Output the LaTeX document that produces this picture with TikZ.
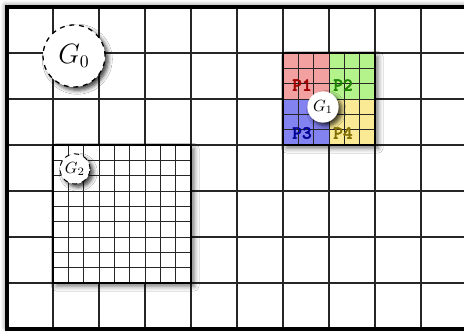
\documentclass[tikz,border=0pt]{standalone}
\usepackage{fontspec}
\newfontfamily\pfont{lmmonolt10-bold}[Extension=.otf, FakeBold=2]
\usetikzlibrary{shadows.blur}
\definecolor{pred}{RGB}{242,160,160}
\definecolor{pgreen}{RGB}{180,242,140}
\definecolor{pblue}{RGB}{130,130,240}
\definecolor{pyellow}{RGB}{250,234,150}
\definecolor{tred}{RGB}{160,0,0}
\definecolor{tgreen}{RGB}{30,130,0}
\definecolor{tblue}{RGB}{0,0,150}
\definecolor{tyellow}{RGB}{130,110,0}
\begin{document}
\begin{tikzpicture}[x=1cm,y=1cm,
  gridline/.style={line width=0.8pt, black!85},
  subline/.style={line width=0.6pt, black!85},
  frameline/.style={line width=2pt, black},
  boxline/.style={line width=1.2pt, black},
  softshadow/.style={blur shadow={shadow xshift=2pt, shadow yshift=-2pt, shadow blur radius=3pt, shadow opacity=55}},
  circshadow/.style={blur shadow={shadow xshift=2pt, shadow yshift=-2pt, shadow blur radius=2.5pt, shadow opacity=75}},
  gcircle/.style={circle, fill=white, inner sep=0pt, circshadow},
  plabel/.style={font=\fontsize{11.5}{13}\selectfont\pfont, inner sep=0pt}]
\useasboundingbox (-0.152,0.152) rectangle (9.935,-7.022);
\clip (-0.152,0.152) rectangle (9.935,-7.022);
% background grid with frame
\fill[white, blur shadow={shadow xshift=-1pt, shadow yshift=1pt, shadow blur radius=3pt, shadow opacity=50}] (0,0) rectangle (10,-7);
\draw[gridline] (0,-7) grid (10,0);
\draw[frameline] (0,0) rectangle (10,-7);
% G1 partitioned region
\fill[white, softshadow] (6,-1) rectangle (8,-3);
\fill[pred] (6,-1) rectangle (7,-2);
\fill[pgreen] (7,-1) rectangle (8,-2);
\fill[pblue] (6,-2) rectangle (7,-3);
\fill[pyellow] (7,-2) rectangle (8,-3);
\draw[subline, step=0.333333] (6,-3) grid (8,-1);
\draw[boxline] (6,-1) rectangle (8,-3);
\node[plabel, text=tred] (P1) at (6.413,-1.696) {P1};
\node[plabel, text=tgreen] (P2) at (7.304,-1.696) {P2};
\node[plabel, text=tblue] (P3) at (6.413,-2.739) {P3};
\node[plabel, text=tyellow] (P4) at (7.304,-2.739) {P4};
% G2 fine grid
\fill[white, softshadow] (1,-3) rectangle (4,-6);
\draw[subline, step=0.333333] (1,-6) grid (4,-3);
\draw[boxline] (1,-3) rectangle (4,-6);
% circles
\node[gcircle, draw, dashed, thick, minimum size=1.348cm, font=\fontsize{16}{18}\selectfont] (G0) at (1.457,-1.065) {$G_0$};
\node[gcircle, minimum size=0.68cm] (G1) at (6.87,-2.174) {$G_1$};
\node[gcircle, draw, dashed, semithick, minimum size=0.652cm] (G2) at (1.478,-3.52) {$G_2$};
\end{tikzpicture}
\end{document}
